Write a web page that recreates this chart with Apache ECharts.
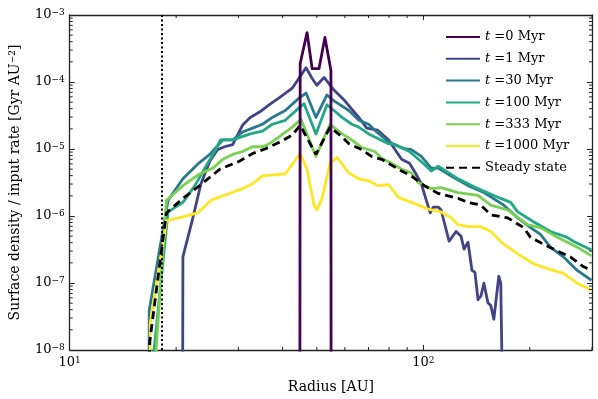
<!DOCTYPE html>
<html>
<head>
<meta charset="utf-8">
<script src="https://cdn.jsdelivr.net/npm/echarts@6/dist/echarts.min.js"></script>
<style>
html,body{margin:0;padding:0;background:#fff}
#chart{width:598px;height:399px}
</style>
</head>
<body>
<div id="chart"></div>
<script>
// radius [AU] and surface density / input rate [Gyr AU^-2]
// 1e-12 means "zero": the curve drops off the bottom of the log axis
let r0 = [44.7, 44.85, 46.9, 48.5, 50.7, 52.7, 54.8, 54.9]
let s0 = [1e-12, 1.87e-4, 5.47e-4, 1.58e-4, 1.58e-4, 4.63e-4, 1.48e-4, 1e-12]

let r1 = [20.8, 20.9, 22.3, 23.5, 24.9, 26.2, 27.4, 28.9, 30.8, 32.4, 34.6, 36.7, 39.1, 42.6, 44.85, 46.6, 48.5, 50.0, 52.4, 55.9, 60.0, 65.7, 69.2, 74.3, 79.7, 82.9, 86.8, 91.4, 95.0, 98.7, 102.0, 104.6, 106.7, 110.2, 112.3, 118.3, 123.8, 127.9, 130.4, 133.8, 137.3, 140.0, 142.8, 145.6, 148.4, 152.3, 155.2, 158.3, 163.5, 165.6, 166.7, 167.0]
let s1 = [1e-12, 2.46e-7, 9.38e-7, 3.03e-6, 6.56e-6, 9.80e-6, 1.08e-5, 1.16e-5, 2.26e-5, 2.96e-5, 3.62e-5, 4.58e-5, 5.79e-5, 8.10e-5, 1.21e-4, 1.64e-4, 1.13e-4, 8.95e-5, 1.17e-4, 7.57e-5, 5.24e-5, 2.96e-5, 2.05e-5, 1.91e-5, 1.37e-5, 1.01e-5, 7.01e-6, 6.13e-6, 4.38e-6, 3.03e-6, 1.71e-6, 1.11e-6, 1.36e-6, 1.36e-6, 1.23e-6, 4.20e-7, 5.87e-7, 4.97e-7, 3.21e-7, 4.06e-7, 1.54e-7, 1.44e-7, 5.62e-8, 6.43e-8, 9.93e-8, 5.09e-8, 4.60e-8, 2.88e-8, 1.26e-7, 9.93e-8, 1.02e-8, 1e-12]

let r30 = [16.72, 16.78, 18.97, 20.9, 23.0, 24.9, 27.1, 28.9, 30.8, 32.9, 35.1, 37.4, 40.7, 44.6, 46.6, 49.7, 53.4, 55.9, 61.6, 65.7, 70.1, 72.9, 79.7, 88.5, 92.5, 98.7, 105.3, 110.2, 119.9, 133.8, 148.4, 168.9, 184.9, 201.1, 214.5, 228.8, 248.9, 272.5, 299]
let s30 = [1e-12, 3.89e-8, 1.71e-6, 3.59e-6, 5.93e-6, 8.29e-6, 1.37e-5, 1.37e-5, 1.79e-5, 2.05e-5, 2.34e-5, 2.96e-5, 3.75e-5, 5.79e-5, 6.85e-5, 2.96e-5, 6.40e-5, 5.24e-5, 3.75e-5, 2.68e-5, 2.34e-5, 1.91e-5, 1.28e-5, 1.01e-5, 9.80e-6, 7.75e-6, 5.18e-6, 5.18e-6, 3.96e-6, 2.84e-6, 2.24e-6, 1.45e-6, 9.38e-7, 6.71e-7, 5.31e-7, 3.43e-7, 2.46e-7, 1.54e-7, 1.10e-7]

let r100 = [17.27, 17.33, 18.97, 20.9, 22.6, 24.1, 25.7, 26.7, 28.9, 32.4, 35.1, 37.4, 40.7, 44.6, 46.0, 49.7, 53.4, 55.9, 58.9, 62.8, 65.7, 70.1, 79.7, 82.9, 91.4, 100.6, 105.3, 110.2, 125.4, 142.8, 165.6, 176.7, 184.9, 205.0, 228.8, 255.4, 265.6, 299]
let s100 = [1e-12, 1.02e-8, 1.15e-6, 1.60e-6, 2.84e-6, 5.18e-6, 9.17e-6, 1.37e-5, 1.37e-5, 1.68e-5, 1.85e-5, 2.34e-5, 2.68e-5, 4.14e-5, 4.74e-5, 1.68e-5, 4.58e-5, 3.75e-5, 2.96e-5, 2.34e-5, 2.12e-5, 1.68e-5, 1.20e-5, 1.16e-5, 9.17e-6, 5.93e-6, 4.69e-6, 5.54e-6, 3.59e-6, 2.56e-6, 1.83e-6, 1.60e-6, 1.15e-6, 8.20e-7, 5.87e-7, 4.80e-7, 4.20e-7, 3.11e-7]

let r333 = [17.5, 17.56, 18.77, 20.9, 23.3, 25.4, 27.1, 28.9, 30.8, 32.9, 35.1, 36.7, 39.1, 42.6, 45.1, 49.7, 54.5, 58.9, 62.8, 67.0, 72.9, 76.2, 81.3, 86.8, 92.5, 96.8, 105.3, 112.3, 125.4, 142.8, 155.2, 173.3, 197.2, 214.5, 239.4, 272.5, 299]
let s333 = [1e-12, 1.02e-8, 1.71e-6, 2.84e-6, 4.24e-6, 5.18e-6, 7.01e-6, 8.29e-6, 9.17e-6, 1.08e-5, 1.08e-5, 1.20e-5, 1.52e-5, 2.12e-5, 2.77e-5, 7.75e-6, 2.34e-5, 1.68e-5, 1.37e-5, 1.05e-5, 9.17e-6, 7.25e-6, 6.13e-6, 5.01e-6, 4.38e-6, 3.13e-6, 2.56e-6, 2.65e-6, 2.24e-6, 2.03e-6, 1.45e-6, 1.23e-6, 7.42e-7, 6.71e-7, 4.80e-7, 3.43e-7, 2.54e-7]

let r1000 = [16.84, 16.89, 18.79, 20.9, 23.0, 25.06, 28.3, 30.8, 32.9, 35.1, 40.7, 44.85, 46.9, 49.1, 50.0, 51.7, 54.5, 57.0, 61.6, 65.7, 70.1, 74.3, 79.7, 85.1, 92.5, 103.3, 112.3, 119.9, 125.4, 133.8, 145.6, 155.2, 168.9, 184.9, 205.0, 224.5, 248.9, 272.5, 299]
let s1000 = [1e-12, 2.51e-8, 8.49e-7, 9.71e-7, 1.11e-6, 1.71e-6, 2.17e-6, 2.56e-6, 3.03e-6, 3.96e-6, 4.24e-6, 8.57e-6, 5.01e-6, 1.45e-6, 1.23e-6, 1.83e-6, 6.13e-6, 7.50e-6, 4.38e-6, 3.59e-6, 3.35e-6, 2.84e-6, 2.93e-6, 1.90e-6, 1.60e-6, 1.27e-6, 1.15e-6, 9.38e-7, 7.42e-7, 6.94e-7, 6.94e-7, 5.87e-7, 3.80e-7, 2.72e-7, 1.94e-7, 1.64e-7, 1.39e-7, 9.93e-8, 7.85e-8]

let rSteady = [16.78, 16.84, 18.77, 20.9, 23.3, 26.6, 30.2, 32.9, 35.8, 39.9, 42.6, 44.85, 49.7, 54.5, 58.9, 61.6, 67.0, 71.4, 76.2, 79.7, 86.8, 92.5, 100.6, 110.2, 125.4, 133.8, 145.6, 155.2, 173.3, 192.2, 201.1, 218.8, 239.4, 260.4, 283.3, 299]
let sSteady = [1e-12, 1.33e-8, 1.11e-6, 1.83e-6, 2.84e-6, 5.01e-6, 6.56e-6, 8.57e-6, 1.01e-5, 1.32e-5, 1.62e-5, 2.26e-5, 8.29e-6, 2.12e-5, 1.52e-5, 1.20e-5, 9.80e-6, 7.75e-6, 7.01e-6, 6.13e-6, 4.69e-6, 3.96e-6, 2.84e-6, 2.17e-6, 1.83e-6, 1.60e-6, 1.45e-6, 1.04e-6, 9.38e-7, 6.71e-7, 4.80e-7, 3.80e-7, 3.00e-7, 2.46e-7, 1.76e-7, 1.54e-7]

let times = ['0', '1', '30', '100', '333', '1000']
let colors = ['#440154', '#414487', '#2a788e', '#22a884', '#7ad151', '#fde725']
let dotR = 18.2   // dotted vertical marker

let xMin = 10, xMax = 300, yMin = 1e-8, yMax = 1e-3
let xMinor = [20, 30, 40, 50, 60, 70, 80, 90, 200, 300]
let yDecades = [1e-8, 1e-7, 1e-6, 1e-5, 1e-4]
let yMult = [2, 3, 4, 5, 6, 7, 8, 9]

const font = 'DejaVu Serif'
const ink = '#222'

function zip(r, s){
  return r.map((x, i) => [x, s[i]])
}

function powLabel(v){
  let lg = Math.log10(v), n = Math.round(lg)
  if (Math.abs(lg - n) > 1e-6) return ''
  return '{b|10}{s|' + String(n).replace('-', '\u2212') + '}'
}
const labelRich = {
  b: {fontFamily: font, fontSize: 13, color: '#000', verticalAlign: 'bottom', lineHeight: 13},
  s: {fontFamily: font, fontSize: 9, color: '#000', verticalAlign: 'top', lineHeight: 9, padding: [0, 0, 7, 0]}
}

function axisBase(){
  return {
    type: 'log', logBase: 10,
    axisLine: {show: true, lineStyle: {color: ink, width: 1.3}},
    axisTick: {show: true, inside: true, length: 5, lineStyle: {color: ink, width: 1}},
    splitLine: {show: false},
    minorTick: {show: false}
  }
}

let chart = echarts.init(document.getElementById('chart'))

let data = [zip(r0, s0), zip(r1, s1), zip(r30, s30), zip(r100, s100), zip(r333, s333), zip(r1000, s1000)]
let series = times.map((t, i) => ({
  name: 't =' + t + ' Myr',
  type: 'line',
  data: data[i],
  symbol: 'none',
  z: i == 0 ? 4 : 2,
  lineStyle: {color: colors[i], width: 2.8, join: 'round'},
  itemStyle: {color: colors[i]}
}))
series.push({
  name: 'Steady state',
  type: 'line',
  data: zip(rSteady, sSteady),
  symbol: 'none',
  z: 3,
  lineStyle: {color: '#000', width: 2.8, type: [8, 5]},
  itemStyle: {color: '#000'}
})
series[0].markLine = {
  silent: true,
  symbol: ['none', 'none'],
  label: {show: false},
  lineStyle: {color: '#000', width: 2, type: [2, 2.5]},
  data: [{xAxis: dotR}]
}

chart.setOption({
  animation: false,
  grid: {left: 65, right: 6, top: 15, bottom: 41},
  legend: {
    orient: 'vertical', left: 440, top: 25,
    itemWidth: 34, itemHeight: 14, itemGap: 7.8,
    itemStyle: {opacity: 0},
    textStyle: {
      fontFamily: font, fontSize: 13, color: '#000', lineHeight: 14, padding: [0, 0, 0, 0],
      rich: {i: {fontFamily: font, fontSize: 13, fontStyle: 'italic', color: '#000'}}
    },
    formatter: n => n.replace(/^t /, '{i|t} ')
  },
  xAxis: [
    Object.assign(axisBase(), {
      min: xMin, max: xMax, position: 'bottom',
      name: 'Radius [AU]', nameLocation: 'middle', nameGap: 30,
      nameTextStyle: {fontFamily: font, fontSize: 14, color: '#000'},
      axisLabel: {formatter: powLabel, rich: labelRich, margin: 6, showMaxLabel: false}
    }),
    Object.assign(axisBase(), {min: xMin, max: xMax, position: 'top', axisLabel: {show: false}})
  ],
  yAxis: [
    Object.assign(axisBase(), {
      min: yMin, max: yMax, position: 'left',
      name: 'Surface density / input rate [Gyr AU{s|\u22122}]', nameLocation: 'middle', nameGap: 44,
      nameTextStyle: {fontFamily: font, fontSize: 14, color: '#000',
        rich: {s: {fontFamily: font, fontSize: 9, color: '#000', verticalAlign: 'top', lineHeight: 9, padding: [0, 0, 7, 0]}}},
      axisLabel: {formatter: powLabel, rich: labelRich, margin: 5}
    }),
    Object.assign(axisBase(), {min: yMin, max: yMax, position: 'right', axisLabel: {show: false}})
  ],
  series: series
})

// log minor ticks on all four sides, placed through the axis scales
function minorTicks(){
  let xl = chart.convertToPixel({xAxisIndex: 0}, xMin)
  let xr = chart.convertToPixel({xAxisIndex: 0}, xMax)
  let yb = chart.convertToPixel({yAxisIndex: 0}, yMin)
  let yt = chart.convertToPixel({yAxisIndex: 0}, yMax)
  let g = []
  let seg = (x1, y1, x2, y2) => g.push({type: 'line', silent: true, z: 50,
    shape: {x1, y1, x2, y2}, style: {stroke: ink, lineWidth: 1}})
  xMinor.forEach(v => {
    let px = chart.convertToPixel({xAxisIndex: 0}, v)
    seg(px, yb, px, yb - 3)
    seg(px, yt, px, yt + 3)
  })
  yDecades.forEach(d => {
    yMult.forEach(m => {
      let py = chart.convertToPixel({yAxisIndex: 0}, d * m)
      seg(xl, py, xl + 3, py)
      seg(xr, py, xr - 3, py)
    })
  })
  chart.setOption({graphic: g})
}
minorTicks()
</script>
</body>
</html>
